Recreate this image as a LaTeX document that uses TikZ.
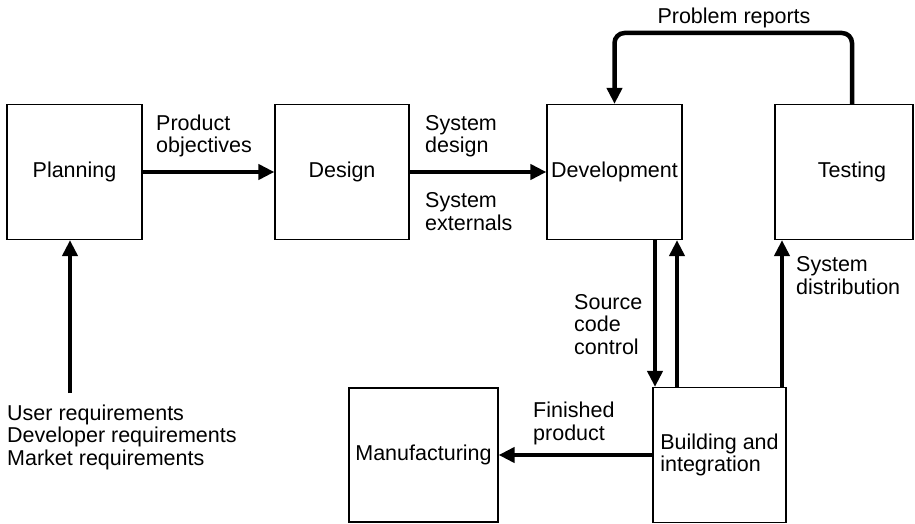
\documentclass[tikz,border=0pt]{standalone}
\usepackage{fontspec}
\setmainfont{Liberation Sans}
\usetikzlibrary{arrows.meta}

\begin{document}
\begin{tikzpicture}[x=1pt, y=-1pt,
  font=\fontsize{21.5}{22.5}\selectfont,
  box/.style={draw, line width=1.2pt, inner sep=0pt},
  flow/.style={line width=4.5pt, -{Triangle[length=16pt,width=15pt]}},
  lbl/.style={align=left, anchor=base west, inner sep=0pt}]
\useasboundingbox (0,0) rectangle (915,524);
% boxes
\node[box, minimum width=135pt, minimum height=135pt] (plan) at (74.5,172) {Planning};
\node[box, minimum width=134pt, minimum height=135pt] (design) at (342,172) {Design};
\node[box, minimum width=135pt, minimum height=135pt] (dev) at (614.5,172) {Development};
\node[box, minimum width=138pt, minimum height=135pt] (test) at (844,172) {\hspace*{16pt}Testing};
\node[box, minimum width=133pt, minimum height=135pt, align=left] (bld) at (719.5,455) {Building and\\integration};
\node[box, minimum width=149pt, minimum height=134pt] (mfg) at (423.5,455) {Manufacturing};
% labels (base = last line)
\node[lbl] (pobj) at (156,153) {Product\\objectives};
\node[lbl] (sdes) at (425,153) {System\\design};
\node[lbl] (sext) at (425,230) {System\\externals};
\node[lbl] (scc) at (574,354) {Source\\code\\control};
\node[lbl] (sdist) at (796,294) {System\\distribution};
\node[lbl] (fin) at (533,440) {Finished\\product};
\node[lbl] (req) at (7,465) {User requirements\\Developer requirements\\Market requirements};
\coordinate (rep) at (734,33);
\node[anchor=base, inner sep=0pt] (prob) at (734,24) {Problem reports};
% arrows
\coordinate (reqtop) at (70,393);
\draw[flow] (reqtop) -- (reqtop |- plan.south);
\draw[flow] (plan) -- (design);
\draw[flow] (design) -- (dev);
\draw[flow] ([xshift=40.5pt]dev.south) -- ([xshift=40.5pt]dev.south |- bld.north);
\draw[flow] ([xshift=62.5pt]dev.south |- bld.north) -- ([xshift=62.5pt]dev.south);
\draw[flow] ([xshift=62.5pt]bld.north) -- ([xshift=62.5pt]bld.north |- test.south);
\draw[flow, rounded corners=10pt] ([xshift=8pt]test.north) |- (rep) -| (dev.north);
\draw[flow] (bld) -- (mfg);
\end{tikzpicture}
\end{document}
